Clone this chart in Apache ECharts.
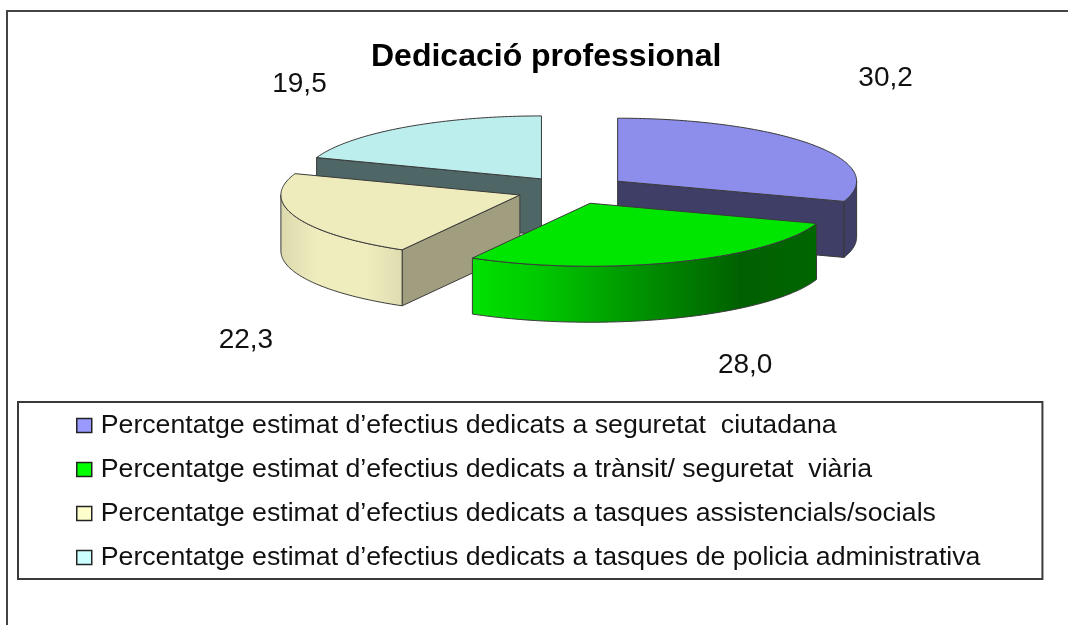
<!DOCTYPE html>
<html>
<head>
<meta charset="utf-8">
<style>html,body{margin:0;padding:0;background:#fff}#c{width:1068px;height:625px}</style>
<script src="https://cdn.jsdelivr.net/npm/echarts@6/dist/echarts.min.js"></script>
</head>
<body>
<div id="c"></div>
<script>
const chartTitle = 'Dedicació professional';
const categories = [
  'Percentatge estimat d’efectius dedicats a seguretat  ciutadana',
  'Percentatge estimat d’efectius dedicats a trànsit/ seguretat  viària',
  'Percentatge estimat d’efectius dedicats a tasques assistencials/socials',
  'Percentatge estimat d’efectius dedicats a tasques de policia administrativa'
];
const values = [30.2, 28.0, 22.3, 19.5];

const legendColors = ['#9999ff', '#00ff00', '#ffffcc', '#ccffff'];
const topColors = ['#8d8dec', '#00e600', '#eeecbc', '#bdeeee'];
const faceColors = ['#3e3e66', '#006400', '#a09e7e', '#4f6666'];
const wallStops = [
  [[0, '#3e3e66'], [1, '#3e3e66']],
  [[0, '#00e200'], [0.2, '#00c800'], [0.5, '#009000'], [0.78, '#006000'], [1, '#006600']],
  [[0, '#dcd9ae'], [0.3, '#efedbe'], [0.7, '#efedbe'], [1, '#dfdcb0']],
  [[0, '#4f6666'], [1, '#4f6666']]
];
const drawOrder = [3, 2, 0, 1];
const explode = [0.24, 0.225, 0.228, 0.215];
const labelOffsets = [[268, -103], [155, 162], [-274, 145], [-242, -95]];

const CX = 571, CY = 190, RX = 239, RY = 63, DEPTH = 56;
const total = values.reduce((a, b) => a + b, 0);
const rad = d => d * Math.PI / 180;

function renderSlice(i) {
  return function (params, api) {
    const v = api.value(0);
    let s = 0;
    for (let k = 0; k < i; k++) s += values[k] / total * 360;
    const e = s + v / total * 360;
    const mid = rad((s + e) / 2);
    const ax = CX + explode[i] * RX * Math.sin(mid);
    const ay = CY - explode[i] * RY * Math.cos(mid);
    const pt = (t, d) => [ax + RX * Math.sin(rad(t)), ay - RY * Math.cos(rad(t)) + (d || 0)];
    const arc = (a, b, d) => {
      const out = [];
      const n = Math.max(2, Math.ceil(Math.abs(b - a)));
      for (let j = 0; j <= n; j++) out.push(pt(a + (b - a) * j / n, d));
      return out;
    };
    const line = { stroke: '#3a3a3a', lineWidth: 1, lineJoin: 'round' };
    const children = [];
    const face = t => children.push({
      type: 'polygon',
      shape: { points: [[ax, ay], pt(t), pt(t, DEPTH), [ax, ay + DEPTH]] },
      style: Object.assign({ fill: faceColors[i] }, line)
    });
    if (Math.sin(rad(s)) < -1e-6) face(s);
    if (Math.sin(rad(e)) > 1e-6) face(e);
    const a = Math.max(s, 90), b = Math.min(e, 270);
    if (b > a) {
      children.push({
        type: 'polygon',
        shape: { points: arc(a, b, 0).concat(arc(b, a, DEPTH)) },
        style: Object.assign({
          fill: { type: 'linear', x: 0, y: 0, x2: 1, y2: 0,
                  colorStops: wallStops[i].map(c => ({ offset: c[0], color: c[1] })) }
        }, line)
      });
    }
    children.push({
      type: 'polygon',
      shape: { points: [[ax, ay]].concat(arc(s, e, 0)) },
      style: Object.assign({ fill: topColors[i] }, line)
    });
    children.push({
      type: 'text',
      x: ax + labelOffsets[i][0],
      y: ay + labelOffsets[i][1],
      z2: 100,
      style: {
        text: v.toFixed(1).replace('.', ','),
        fill: '#111',
        font: '28px "Liberation Sans", Arial, sans-serif',
        align: 'center',
        verticalAlign: 'middle'
      }
    });
    return { type: 'group', children };
  };
}

const chart = echarts.init(document.getElementById('c'), null, { renderer: 'canvas' });
chart.setOption({
  animation: false,
  backgroundColor: '#ffffff',
  title: {
    text: chartTitle,
    left: 371,
    top: 41,
    padding: 0,
    textStyle: { fontFamily: '"Liberation Sans", Arial, sans-serif', fontWeight: 'bold', fontSize: 32, color: '#000' }
  },
  legend: {
    orient: 'vertical',
    left: 18,
    top: 402,
    data: categories,
    icon: 'rect',
    itemWidth: 15,
    itemHeight: 14,
    itemGap: 17,
    padding: [10, 62, 8, 58],
    borderColor: '#3a3a3a',
    borderWidth: 2,
    selectedMode: false,
    itemStyle: { borderColor: '#222', borderWidth: 1.5 },
    textStyle: {
      fontFamily: '"Liberation Sans", Arial, sans-serif',
      fontSize: 26.7,
      lineHeight: 24,
      color: '#111',
      padding: [0, 0, 0, 4]
    }
  },
  graphic: [{
    type: 'polyline',
    silent: true,
    shape: { points: [[7, 640], [7, 11], [1080, 11]] },
    style: { stroke: '#444', lineWidth: 2, fill: null }
  }],
  series: drawOrder.map(i => ({
    type: 'custom',
    name: categories[i],
    coordinateSystem: 'none',
    silent: true,
    itemStyle: { color: legendColors[i] },
    renderItem: renderSlice(i),
    data: [[values[i]]]
  }))
});
</script>
</body>
</html>
